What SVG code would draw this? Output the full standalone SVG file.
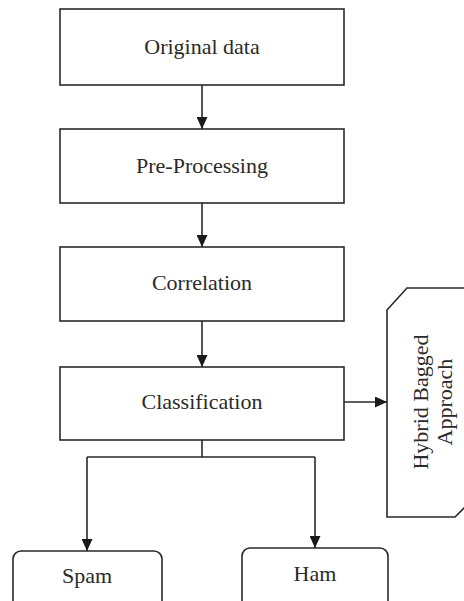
<svg xmlns="http://www.w3.org/2000/svg" width="464" height="601" viewBox="0 0 464 601">
<defs>
<style>
.box{fill:#fff;stroke:#2a2a2a;stroke-width:1.6}
.t{font-family:"Liberation Serif","Times New Roman",serif;font-size:22px;fill:#2a2a2a;text-anchor:middle}
.c{fill:none;stroke:#2a2a2a;stroke-width:1.6}
</style>
<marker id="ah" markerWidth="12" markerHeight="11" refX="12" refY="5.5" orient="auto" markerUnits="userSpaceOnUse">
<path d="M0,0 L12,5.5 L0,11 Z" fill="#1a1a1a"/>
</marker>
</defs>
<rect width="464" height="601" fill="#fff"/>
<g id="original">
<rect class="box" x="60" y="9" width="284" height="76"/>
<text class="t" x="202" y="54">Original data</text>
</g>
<g id="preprocessing">
<rect class="box" x="60" y="129" width="284" height="74"/>
<text class="t" x="202" y="173">Pre-Processing</text>
</g>
<g id="correlation">
<rect class="box" x="60" y="247" width="284" height="74"/>
<text class="t" x="202" y="290">Correlation</text>
</g>
<g id="classification">
<rect class="box" x="60" y="367" width="284" height="73"/>
<text class="t" x="202" y="409">Classification</text>
</g>
<g id="hybrid">
<path class="box" d="M387,310 L407,288 L470,288 L470,500 L464,508 L455,517 L387,517 Z"/>
<text class="t" transform="translate(428,402) rotate(-90)">Hybrid Bagged</text>
<text class="t" transform="translate(452,402) rotate(-90)">Approach</text>
</g>
<g id="spam">
<rect class="box" x="13" y="551" width="149" height="70" rx="8"/>
<text class="t" x="87" y="583">Spam</text>
</g>
<g id="ham">
<rect class="box" x="242" y="548" width="146" height="70" rx="8"/>
<text class="t" x="315" y="581">Ham</text>
</g>
<g id="connectors">
<line class="c" x1="202" y1="85" x2="202" y2="129" marker-end="url(#ah)"/>
<line class="c" x1="202" y1="203" x2="202" y2="247" marker-end="url(#ah)"/>
<line class="c" x1="202" y1="321" x2="202" y2="367" marker-end="url(#ah)"/>
<line class="c" x1="344" y1="402" x2="387" y2="402" marker-end="url(#ah)"/>
<polyline class="c" points="202,440 202,457"/>
<polyline class="c" points="87,457 315,457"/>
<line class="c" x1="87" y1="457" x2="87" y2="551" marker-end="url(#ah)"/>
<line class="c" x1="315" y1="457" x2="315" y2="548" marker-end="url(#ah)"/>
</g>
</svg>
